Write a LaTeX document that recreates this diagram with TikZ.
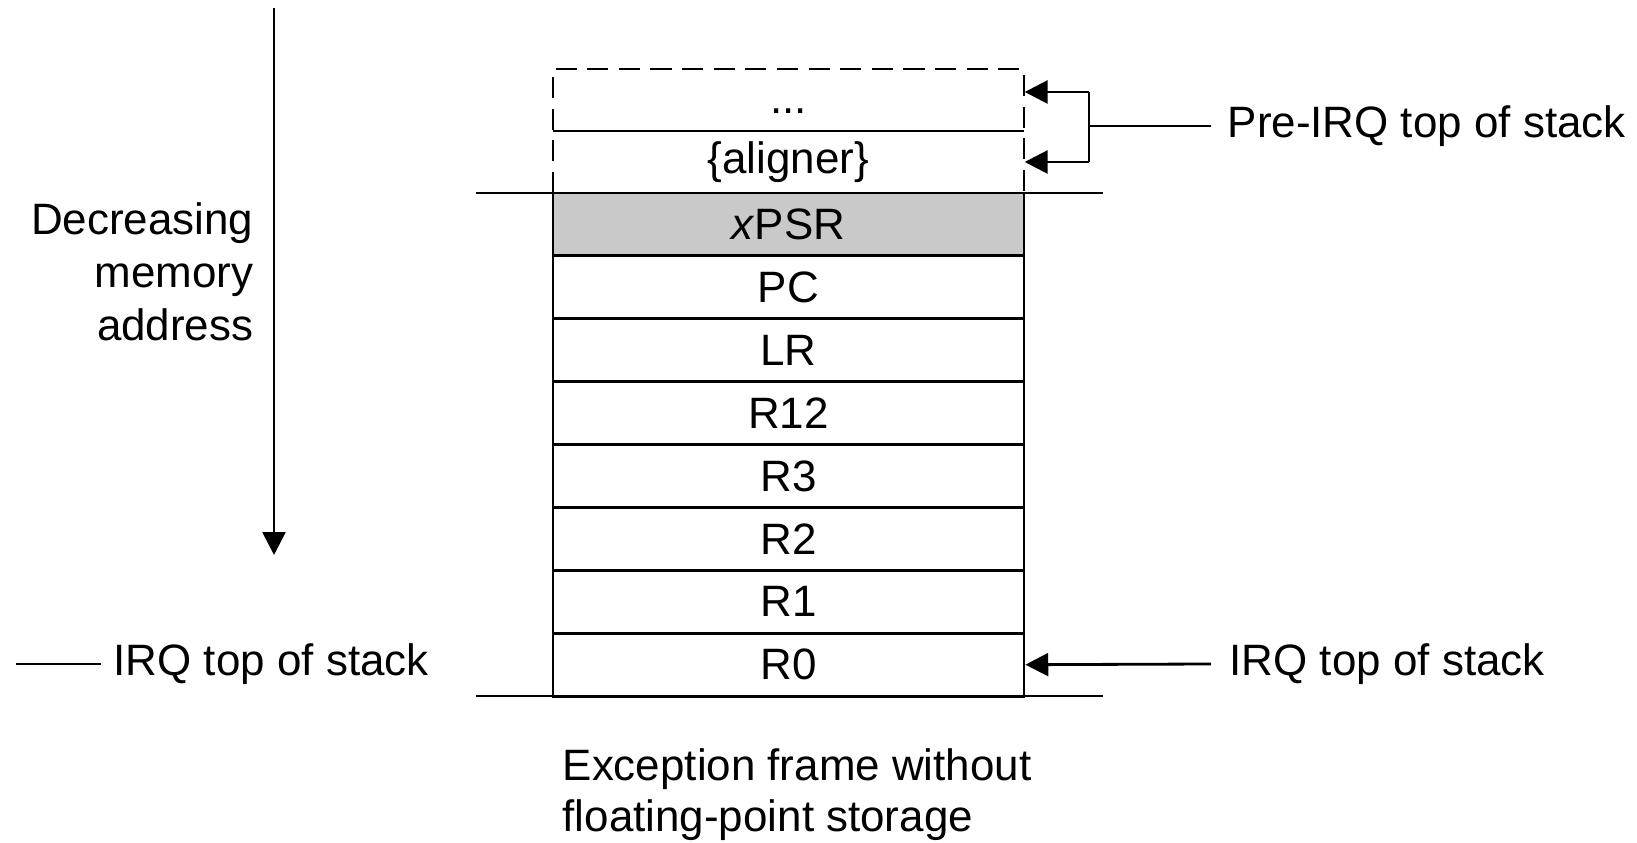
\documentclass[tikz,border=0pt]{standalone}
\usepackage{fontspec}
\setmainfont{Liberation Sans}
\usetikzlibrary{arrows.meta}
\begin{document}
\begin{tikzpicture}[x=0.1mm,y=-0.1mm,
  every node/.style={font=\fontsize{12.5}{15}\selectfont},
  cell/.style={draw, line width=0.8pt, minimum width=47.1mm, minimum height=6.29mm, inner sep=0pt},
  ghost/.style={minimum width=47.1mm, inner sep=0pt},
  ln/.style={line width=0.8pt},
  arr/.style={line width=0.8pt, -{Triangle[length=6.5pt,width=6.5pt]}},
  dsh/.style={line width=0.8pt, dash pattern=on 6pt off 3pt}]
\path[use as bounding box, fill=white] (0,0) rectangle (1637,843);

% dashed upper region
\node[ghost] (dots) at (788.5,111) {...};
\node[ghost] (align) at (788.5,162) {\{aligner\}};
\draw[dsh] (553,193) -- (553,69) -- (1024,69) -- (1024,193);
\draw[ln] (553,131) -- (1024,131);

% stack cells
\node[cell, fill=black!21] (xpsr) at (788.5,224.4) {\textit{x}PSR};
\node[cell] (pc)  at (788.5,287.3) {PC};
\node[cell] (lr)  at (788.5,350.2) {LR};
\node[cell] (r12) at (788.5,413.1) {R12};
\node[cell] (r3)  at (788.5,476.0) {R3};
\node[cell] (r2)  at (788.5,538.9) {R2};
\node[cell] (r1)  at (788.5,601.8) {R1};
\node[cell] (r0)  at (788.5,664.7) {R0};

% long horizontal lines
\draw[ln] (476,193) -- (1103,193);
\draw[ln] (476,696) -- (1103,696);

% decreasing memory arrow
\coordinate (atop) at (274,8);
\coordinate (abot) at (274,555);
\draw[arr] (atop) -- (abot);
\node[anchor=east, align=right, inner sep=0pt] (dec) at (254,272) {Decreasing\\memory\\address};

% left IRQ label
\node[anchor=west, inner sep=0pt] (irql) at (113,664) {IRQ top of stack};
\coordinate (irqlstart) at (16,664);
\draw[ln] (irqlstart) -- (irql.west -| 101,0);

% right IRQ label
\node[anchor=west, inner sep=0pt] (irqr) at (1229,664) {IRQ top of stack};
\draw[arr] (irqr.west -| 1211,0) -- (r0.east);

% Pre-IRQ bracket
\node[anchor=west, inner sep=0pt] (pre) at (1227,126) {Pre-IRQ top of stack};
\coordinate (bt) at (1089,92);
\coordinate (bb) at (1089,162);
\coordinate (bm) at (1089,126);
\draw[ln] (pre.west -| 1211,0) -- (bm);
\draw[ln] (bt) -- (bb);
\draw[arr] (bt) -- (bt -| dots.east);
\draw[arr] (bb) -- (bb -| align.east);

% caption
\node[anchor=north west, align=left, inner sep=0pt, font=\fontsize{12.5}{14.5}\selectfont] (cap) at (562,748) {Exception frame without\\floating-point storage};
\end{tikzpicture}
\end{document}
